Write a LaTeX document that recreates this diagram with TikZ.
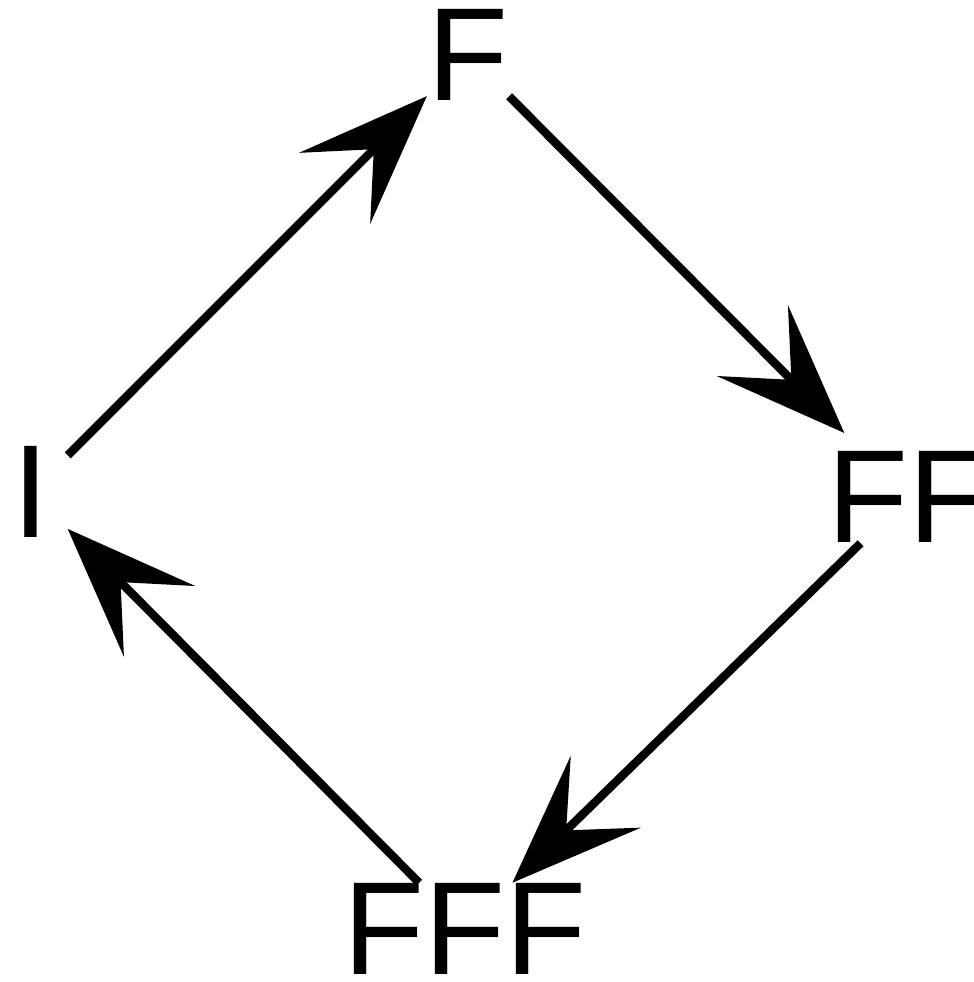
\documentclass[tikz,border=0pt]{standalone}
\usepackage{fontspec}
\setmainfont{Liberation Sans}
\usetikzlibrary{arrows.meta}
\tikzset{>={Stealth[length=1.3cm,width=1cm,inset=0.55cm]}}
\tikzset{lbl/.style={font=\fontsize{37.7}{40}\selectfont, inner sep=0pt},
         link/.style={->, line width=2.4pt}}

\begin{document}
\begin{tikzpicture}
        \useasboundingbox (0,0) rectangle (9.74,9.82);

        % The four states round the diamond
        \node[lbl] (F) at (4.68,9.27) {F};
        \node[lbl] (FF) at (9.08,4.85) {FF};
        \node[lbl] (FFF) at (4.65,0.53) {FFF};
        \node[lbl, minimum width=0.72cm] (I) at (0.31,4.90) {I};

        % Arrows going round the cycle
        \draw[link] (I) -- (F);
        \draw[link, shorten >=0.25cm] (F) -- (FF);
        \draw[link] (FF) -- (FFF);
        \draw[link] (FFF) -- (I);
\end{tikzpicture}
\end{document}
